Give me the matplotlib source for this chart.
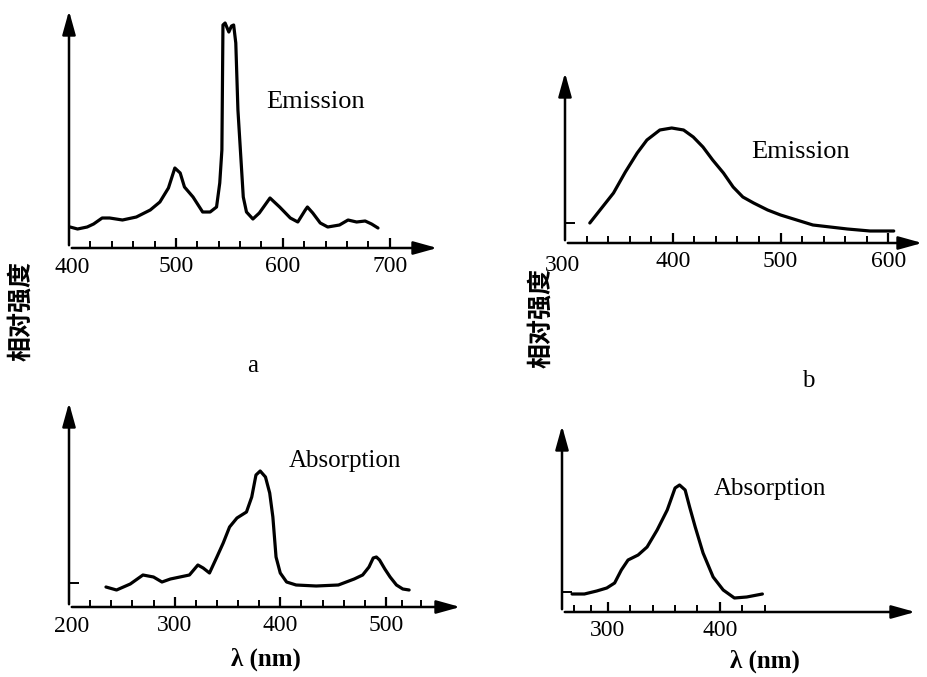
import matplotlib
matplotlib.use('Agg')
from matplotlib import pyplot as plt

plt.rcParams['font.family'] = ['Liberation Serif', 'DejaVu Serif']

# a: emission (nm, relative intensity)
a_nm = [401, 408, 417, 423, 431, 438, 450, 463, 476, 485, 493, 499, 504, 508, 516,
        525, 532, 538, 541, 543, 544, 546, 549.5, 552, 554, 556, 558, 563, 566, 572,
        578, 588, 597, 607, 614, 621, 623, 628, 635, 642, 653, 661, 669, 677, 683, 689]
a_int = [21, 19, 21, 24, 30, 30, 28, 31, 38, 46, 60, 80, 75, 61, 51,
         36, 36, 41, 65, 98, 223, 225, 216, 222, 223, 205, 138, 51, 36, 29,
         35, 50, 41, 30, 26, 38, 41, 35, 25, 21, 23, 28, 26, 27, 24, 20]

# b: emission
b_nm = [323, 334, 345, 356, 367, 376, 388, 399, 410, 419, 428, 437, 447, 456, 465,
        475, 488, 500, 515, 530, 562, 583, 605]
b_int = [20, 35, 50, 71, 90, 103, 113, 115, 113, 106, 96, 83, 70, 56, 46,
         40, 33, 28, 23, 18, 14, 12, 12]

# a: absorption
c_nm = [235, 245, 258, 270, 280, 288, 296, 305, 314, 322, 327, 333, 340, 346, 352,
        359, 368, 373, 377, 381, 386, 390, 393, 396, 400, 406, 415, 434, 455, 470,
        478, 484, 488, 491, 494, 499, 504, 510, 516, 522]
c_int = [20, 17, 23, 32, 30, 25, 28, 30, 32, 42, 39, 34, 50, 64, 80,
         89, 95, 110, 132, 136, 130, 114, 90, 50, 34, 25, 22, 21, 22, 28,
         32, 40, 49, 50, 47, 38, 30, 22, 18, 17]

# b: absorption
d_nm = [268, 279, 290, 299, 306, 312, 318, 327, 335, 344, 353, 360, 364, 369, 373,
        378, 385, 394, 403, 413, 424, 438]
d_int = [18, 18, 21, 24, 29, 42, 52, 57, 65, 82, 102, 124, 127, 122, 105,
         85, 59, 35, 22, 14, 15, 18]

W, H = 928, 677
fig = plt.figure(figsize=(W / 100, H / 100), dpi=100)


def panel(left, bottom, right, top, xlim, ylim, nm, inten, labels, minor, ytick=None):
    ax = fig.add_axes([left / W, (H - bottom) / H, (right - left) / W, (bottom - top) / H])
    ax.plot(nm, inten, color='black', lw=2.3, solid_capstyle='round', solid_joinstyle='round')
    ax.set_xlim(*xlim)
    ax.set_ylim(*ylim)
    for s in ax.spines.values():
        s.set_visible(False)
    # axis lines with arrow heads
    ax.annotate('', xy=(1, 0), xytext=(0, 0), xycoords='axes fraction',
                arrowprops=dict(arrowstyle='-|>,head_length=0.9,head_width=0.25',
                                lw=1.8, color='black', mutation_scale=16))
    ax.annotate('', xy=(0, 1), xytext=(0, 0), xycoords='axes fraction',
                arrowprops=dict(arrowstyle='-|>,head_length=0.9,head_width=0.25',
                                lw=1.8, color='black', mutation_scale=16))
    ax.set_xticks(labels)
    ax.set_xticklabels([str(v) for v in labels], fontsize=17)
    ax.set_xticks(minor, minor=True)
    ax.tick_params(axis='x', which='major', direction='in', length=7, width=1.6, pad=6)
    ax.tick_params(axis='x', which='minor', direction='in', length=5, width=1.4)
    if ytick is not None:
        ax.set_yticks([ytick])
        ax.set_yticklabels([''])
        ax.tick_params(axis='y', direction='in', length=7, width=1.4)
    else:
        ax.set_yticks([])
    return ax


panel(69, 248, 440, 8, (400, 747), (0, 240), a_nm, a_int, [500, 600, 700],
      [420, 440, 460, 480, 520, 540, 560, 580, 620, 640, 660, 680])
panel(565, 243, 925, 70, (300, 634), (0, 173), b_nm, b_int, [400, 500, 600],
      [320, 340, 360, 380, 420, 440, 460, 480, 520, 540, 560, 580], ytick=20)
panel(69, 607, 463, 400, (200, 573), (0, 207), c_nm, c_int, [300, 400, 500],
      [220, 240, 260, 280, 320, 340, 360, 380, 420, 440, 460, 480, 515, 533], ytick=24)
panel(562, 612, 918, 423, (259, 577), (0, 189), d_nm, d_int, [300, 400],
      [270, 285, 320, 340, 360, 380, 420, 440], ytick=20)


def txt(x, y, s, **kw):
    fig.text(x / W, 1 - y / H, s, **kw)


# origin labels sit on the axis corner
txt(72, 268, '400', fontsize=17, ha='center', va='center')
txt(562, 265, '300', fontsize=17, ha='center', va='center')
txt(72, 626, '200', fontsize=17, ha='center', va='center')

txt(316, 102, 'Emission', fontsize=19, ha='center', va='center')
txt(801, 152, 'Emission', fontsize=19, ha='center', va='center')
txt(345, 461, 'Absorption', fontsize=18, ha='center', va='center')
txt(770, 489, 'Absorption', fontsize=18, ha='center', va='center')

txt(253, 366, 'a', fontsize=18, ha='center', va='center')
txt(808, 381, 'b', fontsize=18, ha='center', va='center')

txt(266, 659, 'λ (nm)', fontsize=18, ha='center', va='center', fontweight='bold')
txt(765, 661, 'λ (nm)', fontsize=18, ha='center', va='center', fontweight='bold')

for x, y in [(21, 311), (541, 318)]:
    txt(x, y, '相对强度', fontsize=18, ha='center', va='center', rotation=90,
        family=['Noto Sans CJK SC', 'DejaVu Sans'], fontweight='bold')

fig.savefig('out.png', dpi=100)
